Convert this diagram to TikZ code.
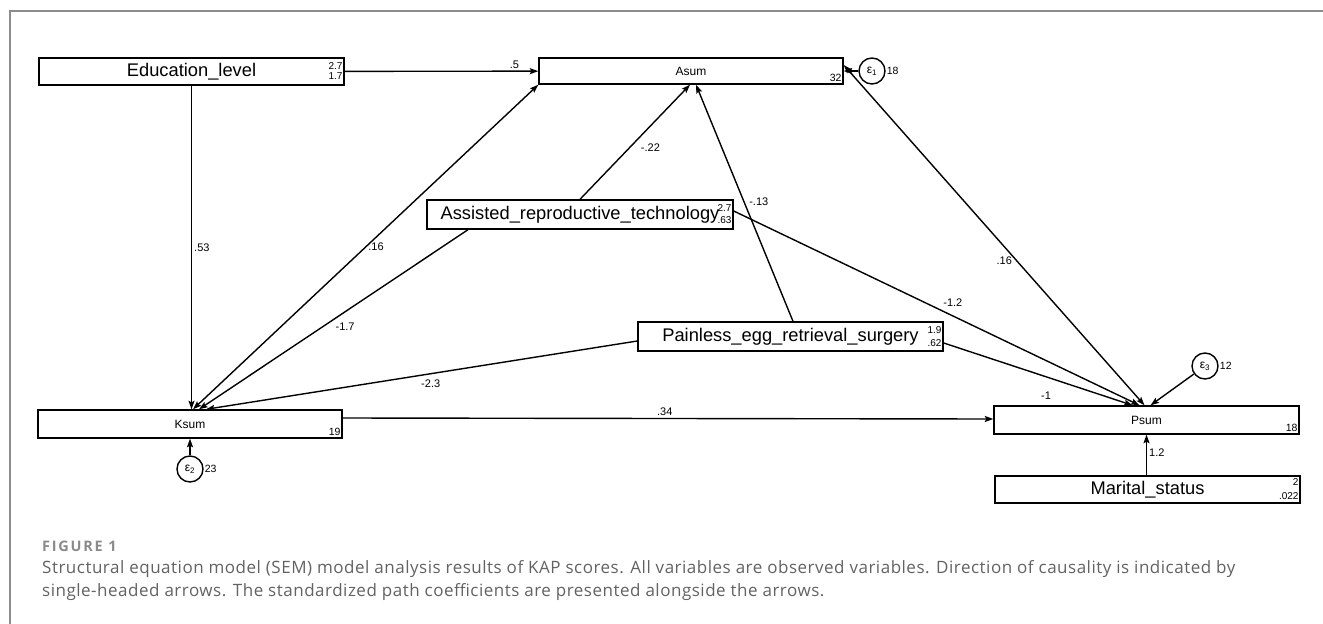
\documentclass[tikz,border=0pt]{standalone}
\usepackage{fontspec}
\setmainfont{Liberation Sans}
\newfontfamily\capfontsp[LetterSpace=3]{Open Sans}
\newfontfamily\figfont[LetterSpace=12]{Open Sans}
\usetikzlibrary{arrows.meta,calc}
\definecolor{framegray}{HTML}{8C8C8C}
\definecolor{capgray}{HTML}{626262}
\definecolor{figgray}{HTML}{8A8A8A}
\begin{document}
\begin{tikzpicture}[x=1pt,y=-1pt,
  box/.style={draw, line width=1.4pt, inner sep=0pt, minimum height=27pt},
  big/.style={font=\fontsize{18.3}{18.3}\selectfont},
  small/.style={font=\fontsize{12}{12}\selectfont},
  num/.style={font=\fontsize{10}{10}\selectfont, inner sep=1pt, anchor=east},
  numb/.style={font=\fontsize{10.5}{10.5}\selectfont, inner sep=1pt},
  lab/.style={font=\fontsize{11}{11}\selectfont, inner sep=2pt},
  err/.style={circle, draw, line width=1.4pt, minimum size=26pt, inner sep=0pt, font=\fontsize{12}{12}\selectfont},
  tip/.tip={Stealth[length=8.5pt,width=6pt,inset=1.5pt]},
  arr/.style={line width=1.4pt, -tip},
  darr/.style={line width=1.4pt, tip-tip}
]
\useasboundingbox (0,0) rectangle (1323,624);
\draw[framegray, line width=1.4pt] (10,624) -- (10,11) -- (1323,11);

% boxes
\node[box, minimum width=305pt, big] (edu) at (191.5,71.5) {Education\_level};
\node[box, minimum width=304pt, minimum height=26pt, small] (asum) at (691,71) {Asum};
\node[box, minimum width=306pt, minimum height=29pt, big] (ass) at (580,214.5) {Assisted\_reproductive\_technology};
\node[box, minimum width=305pt, minimum height=29pt, big] (pain) at (790.5,336.5) {Painless\_egg\_retrieval\_surgery};
\node[box, minimum width=304pt, minimum height=28pt, small] (ksum) at (190,424) {Ksum};
\node[box, minimum width=305pt, minimum height=28pt, small] (psum) at (1146.5,420) {Psum};
\node[box, minimum width=305pt, minimum height=27pt, big] (mar) at (1147.5,489.5) {Marital\_status};

% side numbers
\node[num] at ([xshift=-1pt,yshift=5pt]edu.east) {2.7};
\node[num] at ([xshift=-1pt,yshift=-5pt]edu.east) {1.7};
\node[num] at ([xshift=-1pt,yshift=6pt]ass.east) {2.7};
\node[num] at ([xshift=-1pt,yshift=-6pt]ass.east) {.63};
\node[num] at ([xshift=-1pt,yshift=6.5pt]pain.east) {1.9};
\node[num] at ([xshift=-1pt,yshift=-6.5pt]pain.east) {.62};
\node[num] at ([xshift=-1pt,yshift=7pt]mar.east) {2};
\node[num] at ([xshift=-1pt,yshift=-6.5pt]mar.east) {.022};
\node[numb, anchor=south east] at ([xshift=-1pt,yshift=2pt]asum.south east) {32};
\node[numb, anchor=south east] at ([xshift=-1pt,yshift=2pt]ksum.south east) {19};
\node[numb, anchor=south east] at ([xshift=-1pt,yshift=2pt]psum.south east) {18};

% error terms
\node[err] (e1) at (872,71) {ε\textsubscript{1}};
\node[err] (e2) at (190,469) {ε\textsubscript{2}};
\node[err] (e3) at (1205,366) {ε\textsubscript{3}};
\node[numb, anchor=west] at (e1.east) {18};
\node[numb, anchor=west] at (e2.east) {23};
\node[numb, anchor=west] at (e3.east) {12};

% paths
\draw[arr] (edu) -- (asum) node[lab, pos=0.877, above] {.5};
\draw[arr] (edu.south) -- (edu.south |- ksum.north) node[lab, pos=0.5, right] {.53};
\draw[darr] ([xshift=3pt]ksum.north) -- (asum.south west) node[lab, pos=0.5, anchor=west] {.16};
\draw[arr] (ass.north) -- ([xshift=-1pt]asum.south) node[lab, pos=0.448, right=9pt] {-.22};
\draw[arr] ([xshift=-112pt]ass.south) -- ([xshift=9pt]ksum.north) node[lab, pos=0.457, below=8pt] {-1.7};
\draw[arr] ([yshift=3.5pt]ass.east) -- ([xshift=-7pt]psum.north) node[lab, pos=0.54, above=7pt] {-1.2};
\draw[arr] ([xshift=2.5pt]pain.north) -- ([xshift=5pt]asum.south) node[lab, pos=0.504, right=2.5pt] {-.13};
\draw[arr] ([yshift=-4.5pt]pain.west) -- ([xshift=16pt]ksum.north) node[lab, pos=0.479, below=3pt] {-2.3};
\draw[arr] ([yshift=-6.5pt]pain.east) -- ([xshift=-14pt]psum.north) node[lab, pos=0.542, below=12pt] {-1};
\draw[darr] ([yshift=6pt]asum.east) -- ([xshift=-2pt]psum.north) node[lab, pos=0.575, left=2pt] {.16};
\draw[arr] ([yshift=6pt]ksum.east) -- ([yshift=1pt]psum.west) node[lab, pos=0.495, above=0pt] {.34};
\draw[arr] (e1) -- (asum.east);
\draw[arr] (e2) -- (ksum.south);
\draw[arr] (e3) -- ([xshift=4pt]psum.north);
\draw[arr] (mar.north -| psum.south) -- (psum.south) node[lab, pos=0.548, right] {1.2};

% caption
\node[anchor=west, inner sep=0pt, text=figgray, font=\figfont\bfseries\fontsize{14.5}{14.5}\selectfont] (fig) at (42,546) {FIGURE 1};
\node[anchor=north west, align=left, inner sep=0pt, text=capgray, font=\capfontsp\fontsize{17}{23.5}\selectfont] (cap) at (42,560) {Structural equation model (SEM) model analysis results of KAP scores. All variables are observed variables. Direction of causality is indicated by\\single-headed arrows. The standardized path coefficients are presented alongside the arrows.};
\end{tikzpicture}
\end{document}
